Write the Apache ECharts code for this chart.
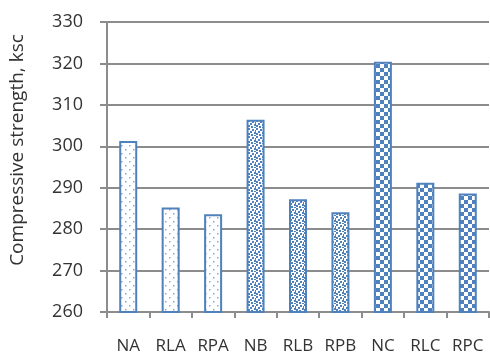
<!DOCTYPE html>
<html><head><meta charset="utf-8">
<script src="https://cdn.jsdelivr.net/npm/echarts@6/dist/echarts.min.js"></script>
<style>html,body{margin:0;padding:0;background:#fff}#c{width:490px;height:358px}</style>
</head><body><div id="c"></div>
<script>
const categories = ['NA','RLA','RPA','NB','RLB','RPB','NC','RLC','RPC'];
const values = [301.3, 285.2, 283.6, 306.4, 287.2, 284.1, 320.4, 291.2, 288.6];
const patternGroups = ['A','A','A','B','B','B','C','C','C'];
const yTicks = {min: 260, max: 330, interval: 10};
const yTitle = 'Compressive strength, ksc';

const blue = '#4f81bd';
function mk(w, h, draw){const c=document.createElement('canvas');c.width=w;c.height=h;const x=c.getContext('2d');x.fillStyle='#fff';x.fillRect(0,0,w,h);draw(x);return c;}
const patA = mk(8,8,x=>{x.fillStyle='#8fa9d4';x.fillRect(1,1,1.5,1.5);x.fillRect(5,5,1.5,1.5);});
const patB = mk(8,8,x=>{x.fillStyle=blue;[[0,0],[4,1],[2,3],[6,4],[0,5],[3,6],[6,7],[7,2]].forEach(p=>x.fillRect(p[0],p[1],2,2));});
const patC = mk(8,8,x=>{x.fillStyle=blue;x.fillRect(0,0,4,4);x.fillRect(4,4,4,4);});
const pats = {A:patA,B:patB,C:patC};

const chart = echarts.init(document.getElementById('c'));
chart.setOption({
  animation:false,
  grid:{left:107,right:1,top:22,bottom:46,containLabel:false,outerBoundsMode:'none'},
  xAxis:{type:'category',data:categories,
    axisLine:{lineStyle:{color:'#8c8c8c',width:2}},
    axisTick:{show:true,length:6,lineStyle:{color:'#8c8c8c',width:2}},
    axisLabel:{color:'#333',fontSize:17,fontFamily:'Open Sans',margin:26}},
  yAxis:{type:'value',min:yTicks.min,max:yTicks.max,interval:yTicks.interval,
    name:yTitle,nameLocation:'middle',nameGap:80,
    nameTextStyle:{color:'#333',fontSize:19,fontFamily:'Open Sans',padding:[0,0,0,34]},
    axisLine:{show:true,lineStyle:{color:'#8c8c8c',width:2}},
    axisTick:{show:true,length:7,lineStyle:{color:'#8c8c8c',width:2}},
    splitLine:{lineStyle:{color:'#8c8c8c',width:2}},
    axisLabel:{color:'#333',fontSize:18,fontFamily:'Open Sans',margin:24}},
  series:[{type:'bar',barWidth:18,
    data:values.map((v,i)=>({value:v,itemStyle:{color:{image:pats[patternGroups[i]],repeat:'repeat'},borderColor:blue,borderWidth:2}}))}]
});
</script></body></html>
